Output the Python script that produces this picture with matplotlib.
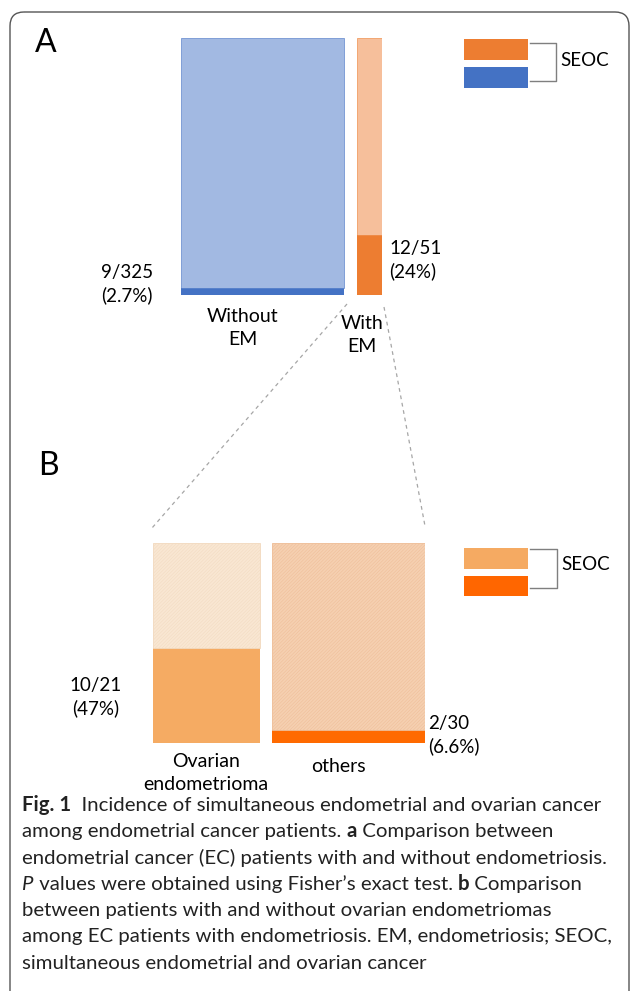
import matplotlib
matplotlib.use('Agg')
import matplotlib.pyplot as plt
from matplotlib.patches import Rectangle, FancyBboxPatch

plt.rcParams['font.family'] = ['Lato', 'DejaVu Sans']
plt.rcParams['hatch.linewidth'] = 0.35

# 数据
groups_a = ['Without\nEM', 'With\nEM']
total_a = [325, 51]
seoc_a = [9, 12]
labels_a = ['9/325\n(2.7%)', '12/51\n(24%)']
light_a = ['#A2B9E2', '#F6BF9B']
dark_a = ['#4472C4', '#ED7D31']

groups_b = ['Ovarian\nendometrioma', 'others']
total_b = [21, 30]
seoc_b = [10, 2]
labels_b = ['10/21\n(47%)', '2/30\n(6.6%)']
light_b = ['#F9E7D3', '#F5D0B1']
hatch_b = ['#F2D9BE', '#EEBC95']
dark_b = ['#F5AB63', '#FF6A00']
legend_b = ['#F5AA62', '#FF6600']

W, H = 630, 991
fig = plt.figure(figsize=(W / 100, H / 100), dpi=100)
base = fig.add_axes([0, 0, 1, 1])
base.set_xlim(0, W)
base.set_ylim(H, 0)
base.axis('off')


def px_axes(x0, y0, x1, y1):
    ax = fig.add_axes([x0 / W, 1 - y1 / H, (x1 - x0) / W, (y1 - y0) / H])
    ax.axis('off')
    return ax


# 外框
base.add_patch(FancyBboxPatch((10, 12), 619, 1000, boxstyle='round,pad=0,rounding_size=14',
                              fc='none', ec='#555555', lw=1.0))

# ---------------- A ----------------
base.text(46, 43, 'A', fontsize=23, ha='center', va='center')
gap_a = 26
axa = px_axes(181, 38, 382, 295)
axa.set_xlim(0, sum(total_a) + gap_a)
axa.set_ylim(0, 1)
left = 0
for i in range(2):
    frac = seoc_a[i] / total_a[i]
    axa.bar(left, frac, width=total_a[i], align='edge', color=dark_a[i], lw=0)
    axa.bar(left, 1 - frac, bottom=frac, width=total_a[i], align='edge',
            color=light_a[i], ec=dark_a[i], lw=0.4, alpha=1)
    left += total_a[i] + gap_a

base.text(127, 284, labels_a[0], fontsize=13.5, ha='center', va='center', linespacing=1.4)
base.text(389, 260, labels_a[1], fontsize=13.5, ha='left', va='center', linespacing=1.4)
base.text(243, 328, groups_a[0], fontsize=14, ha='center', va='center', linespacing=1.4)
base.text(362, 335, groups_a[1], fontsize=14, ha='center', va='center', linespacing=1.4)

# 图例 A
base.add_patch(Rectangle((464, 39), 64, 21, color=dark_a[1], lw=0))
base.add_patch(Rectangle((464, 67), 64, 21, color=dark_a[0], lw=0))
base.plot([530, 556, 556, 530], [43, 43, 81, 81], color='#7F7F7F', lw=1)
base.text(560, 60, 'SEOC', fontsize=13.5, ha='left', va='center')

# 虚线
base.plot([347, 152], [304, 528], color='#A6A6A6', lw=0.9, ls=(0, (3, 3)))
base.plot([384, 425], [307, 526], color='#A6A6A6', lw=0.9, ls=(0, (3, 3)))

# ---------------- B ----------------
base.text(48, 466, 'B', fontsize=23, ha='center', va='center')
gap_b = 2.4
axb = px_axes(153, 543, 425, 743)
axb.set_xlim(0, sum(total_b) + gap_b)
axb.set_ylim(0, 1)
left = 0
for i in range(2):
    frac = seoc_b[i] / total_b[i]
    axb.bar(left, frac, width=total_b[i], align='edge', color=dark_b[i], lw=0)
    axb.bar(left, 1 - frac, bottom=frac, width=total_b[i], align='edge',
            fc=light_b[i], ec=hatch_b[i], lw=0.6, hatch='//////////')
    left += total_b[i] + gap_b

base.text(96, 697, labels_b[0], fontsize=13.5, ha='center', va='center', linespacing=1.4)
base.text(428, 735, labels_b[1], fontsize=13.5, ha='left', va='center', linespacing=1.4)
base.text(206, 773, groups_b[0], fontsize=14, ha='center', va='center', linespacing=1.4)
base.text(338, 766, groups_b[1], fontsize=14, ha='center', va='center')

# 图例 B
base.add_patch(Rectangle((464, 548), 64, 21, color=legend_b[0], lw=0))
base.add_patch(Rectangle((464, 576), 64, 20, color=legend_b[1], lw=0))
base.plot([530, 557, 557, 530], [549, 549, 588, 588], color='#7F7F7F', lw=1)
base.text(561, 565, 'SEOC', fontsize=13.5, ha='left', va='center')

# ---------------- 图注 ----------------
N, B, I = 'normal', 'bold', 'italic'
caption = [
    [('Fig. 1', B), ('  Incidence of simultaneous endometrial and ovarian cancer', N)],
    [('among endometrial cancer patients. ', N), ('a', B), (' Comparison between', N)],
    [('endometrial cancer (EC) patients with and without endometriosis.', N)],
    [('P', I), (' values were obtained using Fisher\u2019s exact test. ', N), ('b', B), (' Comparison', N)],
    [('between patients with and without ovarian endometriomas', N)],
    [('among EC patients with endometriosis. EM, endometriosis; SEOC,', N)],
    [('simultaneous endometrial and ovarian cancer', N)],
]
fig.canvas.draw()
renderer = fig.canvas.get_renderer()
y = 811
for line in caption:
    x = 22
    for txt, st in line:
        t = base.text(x, y, txt, fontsize=14.7, ha='left', va='baseline',
                      fontweight='bold' if st == B else 'normal',
                      fontstyle='italic' if st == I else 'normal', color='#222222')
        x += t.get_window_extent(renderer).width
    y += 26.3

fig.savefig('out.png', dpi=100)
